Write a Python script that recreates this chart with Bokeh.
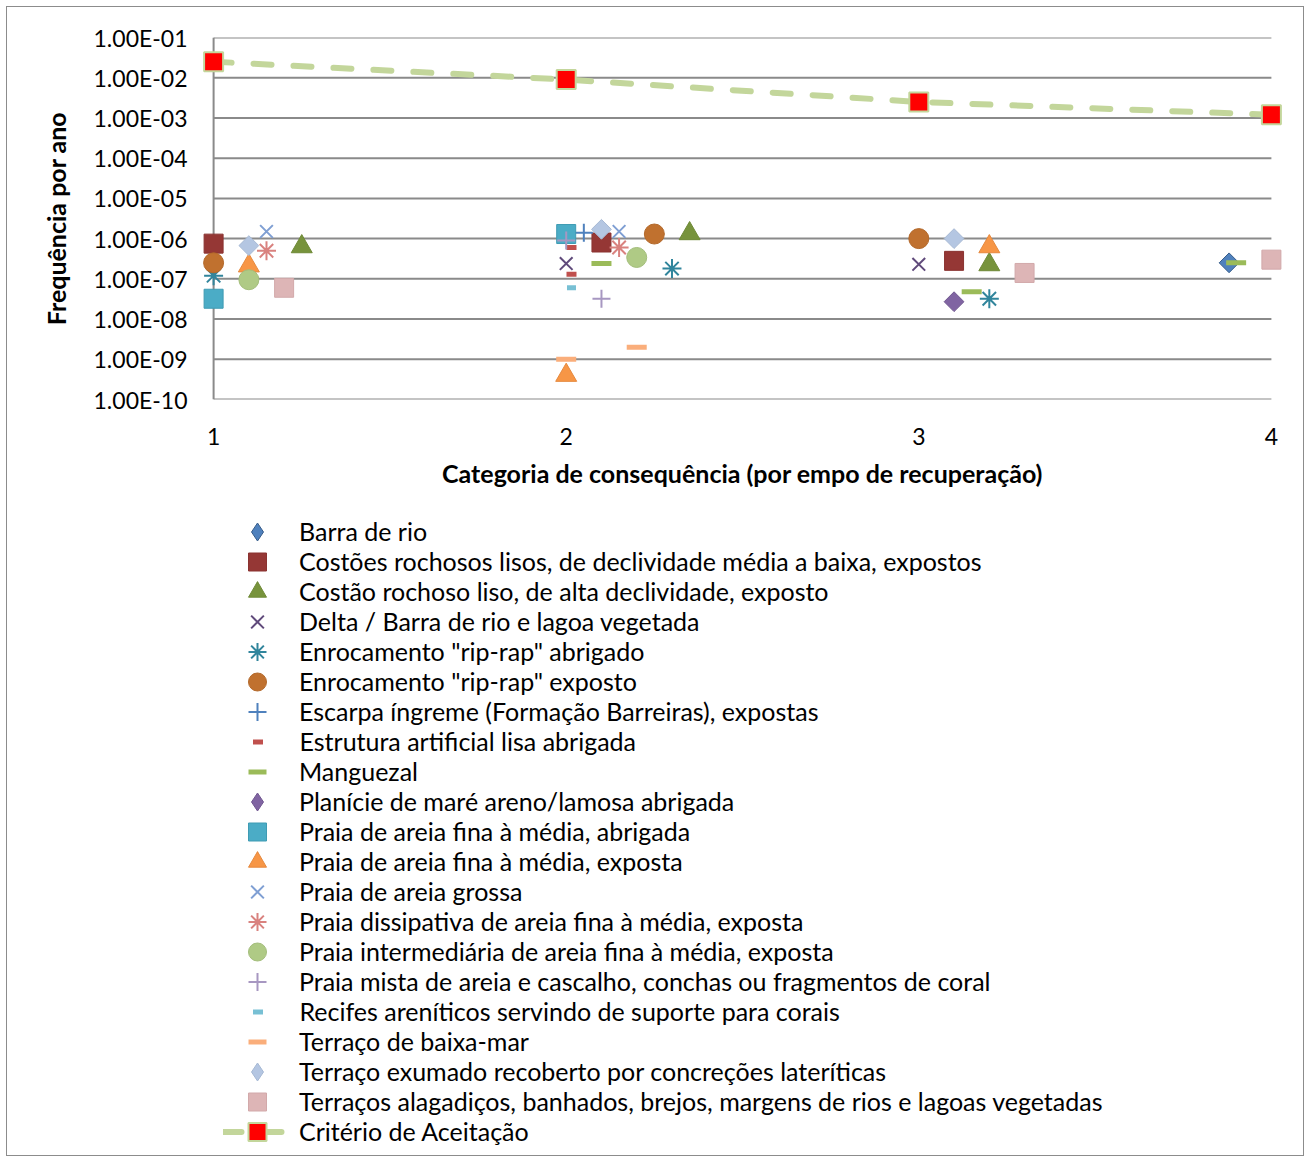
import numpy as np
from bokeh.plotting import figure
from bokeh.layouts import column
from bokeh.models import (Range1d, FixedTicker, CustomJSTickFormatter, Legend, LegendItem,
                          ColumnDataSource)
from bokeh.embed import file_html
from bokeh.resources import INLINE

# ---------------- data ----------------
x_ticks = [1, 2, 3, 4]
y_ticks = [1e-10, 1e-9, 1e-8, 1e-7, 1e-6, 1e-5, 1e-4, 1e-3, 1e-2, 1e-1]
y_tick_labels = ["1.00E-10", "1.00E-09", "1.00E-08", "1.00E-07", "1.00E-06",
                 "1.00E-05", "1.00E-04", "1.00E-03", "1.00E-02", "1.00E-01"]

barra_x = [3.88];                 barra_y = [2.5e-7]
costoes_x = [1, 2.1, 3.1];        costoes_y = [7.5e-7, 8e-7, 2.8e-7]
costao_alta_x = [1.25, 2.35, 3.2]; costao_alta_y = [6.3e-7, 1.33e-6, 2.25e-7]
delta_x = [2, 3];                 delta_y = [2.4e-7, 2.3e-7]
enroc_abrig_x = [1, 2.3, 3.2];    enroc_abrig_y = [1.2e-7, 1.8e-7, 3.2e-8]
enroc_exp_x = [1, 2.25, 3];       enroc_exp_y = [2.5e-7, 1.3e-6, 1e-6]
escarpa_x = [2.05];               escarpa_y = [1.4e-6]
estrutura_x = [2.015, 2.015];     estrutura_y = [6e-7, 1.3e-7]
manguezal_x = [2.1, 3.15, 3.9];   manguezal_y = [2.4e-7, 4.8e-8, 2.5e-7]
planicie_x = [3.1];               planicie_y = [2.7e-8]
praia_abrig_x = [1, 2];           praia_abrig_y = [3.2e-8, 1.3e-6]
praia_exp_x = [1.1, 2, 3.2];      praia_exp_y = [2.1e-7, 4e-10, 6.3e-7]
praia_grossa_x = [1.15, 2.15];    praia_grossa_y = [1.5e-6, 1.5e-6]
dissip_x = [1.15, 2.15];          dissip_y = [5e-7, 6e-7]
intermed_x = [1.1, 2.2];          intermed_y = [9.5e-8, 3.4e-7]
mista_x = [2, 2.1];               mista_y = [9e-7, 3.2e-8]
recifes_x = [2.015];              recifes_y = [6e-8]
baixamar_x = [2, 2.2];            baixamar_y = [1e-9, 2e-9]
exumado_x = [1.1, 2.1, 3.1];      exumado_y = [6.7e-7, 1.7e-6, 1e-6]
alagadicos_x = [1.2, 3.3, 4];     alagadicos_y = [6e-8, 1.4e-7, 3e-7]
criterio_x = [1, 2, 3, 4];        criterio_y = [2.5e-2, 9e-3, 2.5e-3, 1.2e-3]

labels = [
    "Barra de rio",
    "Costões rochosos lisos, de declividade média a baixa, expostos",
    "Costão rochoso liso, de alta declividade, exposto",
    "Delta / Barra de rio e lagoa vegetada",
    "Enrocamento \"rip-rap\" abrigado",
    "Enrocamento \"rip-rap\" exposto",
    "Escarpa íngreme (Formação Barreiras), expostas",
    "Estrutura artificial lisa abrigada",
    "Manguezal",
    "Planície de maré areno/lamosa abrigada",
    "Praia de areia fina à média, abrigada",
    "Praia de areia fina à média, exposta",
    "Praia de areia grossa",
    "Praia dissipativa de areia fina à média, exposta",
    "Praia intermediária de areia fina à média, exposta",
    "Praia mista de areia e cascalho, conchas ou fragmentos de coral",
    "Recifes areníticos servindo de suporte para corais",
    "Terraço de baixa-mar",
    "Terraço exumado recoberto por concreções lateríticas",
    "Terraços alagadiços, banhados, brejos, margens de rios e lagoas vegetadas",
    "Critério de Aceitação",
]

FONT = "Lato"
W = 1296
H1 = 500
H2 = 648
TOP = 7      # page y of the content top (margin + border)
FRAME_LEFT = 199   # page x of the (aligned) frame left edge

# ---------------- chart ----------------
p = figure(width=W, height=H1, y_axis_type="log",
           x_range=Range1d(0.96, 4.04), y_range=Range1d(1e-10, 1e-1),
           output_backend="svg", toolbar_location=None,
           min_border_left=192, min_border_right=18, min_border_top=30,
           min_border_bottom=H1 - (399 - TOP))
p.outline_line_color = None
p.grid.visible = False

for ax in (p.xaxis[0], p.yaxis[0]):
    ax.axis_line_color = None
    ax.major_tick_line_color = None
    ax.minor_tick_line_color = None
    ax.major_label_text_font = FONT
    ax.major_label_text_font_size = "23px"
    ax.major_label_text_color = "#000000"
    ax.axis_label_text_font = FONT
    ax.axis_label_text_font_style = "bold"
    ax.axis_label_text_font_size = "25px"
    ax.axis_label_text_color = "#000000"

p.xaxis.ticker = FixedTicker(ticks=x_ticks)
p.xaxis.major_label_standoff = 22
p.xaxis.axis_label = "Categoria de consequência (por empo de recuperação)"
p.xaxis.axis_label_standoff = 10

p.yaxis.ticker = FixedTicker(ticks=y_ticks)
p.yaxis.formatter = CustomJSTickFormatter(args=dict(tv=y_ticks, tl=y_tick_labels), code="""
let best = 0, bd = Infinity;
for (let i = 0; i < tv.length; i++) {
  const d = Math.abs(Math.log10(tick) - Math.log10(tv[i]));
  if (d < bd) { bd = d; best = i; }
}
return tl[best];
""")
p.yaxis.major_label_standoff = 6
p.yaxis.axis_label = "Frequência por ano"
p.yaxis.axis_label_standoff = 20

grid_col = "#8a8a8a"
p.segment(x0=[x_ticks[0]] * len(y_ticks), x1=[x_ticks[-1]] * len(y_ticks),
          y0=y_ticks, y1=y_ticks, line_color=grid_col, line_width=2)
p.segment(x0=[x_ticks[0]], x1=[x_ticks[0]], y0=[y_ticks[0]], y1=[y_ticks[-1]],
          line_color=grid_col, line_width=2)

styles = [
    dict(marker="square", angle=np.pi/4, size=14, fill_color="#4F81BD", line_color="#385D8A", line_width=1),
    dict(marker="square", size=19, fill_color="#953735", line_color="#8a3331", line_width=1),
    dict(marker="triangle", size=21, fill_color="#77933C", line_color="#6f8a37", line_width=1),
    dict(marker="x", size=18, line_color="#604A7B", line_width=2),
    dict(marker="asterisk", size=19, line_color="#31859C", line_width=2),
    dict(marker="circle", size=20, fill_color="#C0712F", line_color="#b3692b", line_width=1),
    dict(marker="cross", size=18, line_color="#4F81BD", line_width=2),
    dict(marker="dash", size=10, line_color="#C0504D", line_width=5, line_cap="butt"),
    dict(marker="dash", size=20, line_color="#9BBB59", line_width=5, line_cap="butt"),
    dict(marker="square", angle=np.pi/4, size=14, fill_color="#8064A2", line_color="#715890", line_width=1),
    dict(marker="square", size=19, fill_color="#4BACC6", line_color="#3f9bb3", line_width=1),
    dict(marker="triangle", size=21, fill_color="#F79646", line_color="#e6893e", line_width=1),
    dict(marker="x", size=18, line_color="#7F9FD3", line_width=2),
    dict(marker="asterisk", size=19, line_color="#D9827F", line_width=2),
    dict(marker="circle", size=20, fill_color="#AFCA85", line_color="#a3bd7b", line_width=1),
    dict(marker="cross", size=18, line_color="#A797C1", line_width=2),
    dict(marker="dash", size=9, line_color="#78C0D4", line_width=5, line_cap="butt"),
    dict(marker="dash", size=20, line_color="#FAAE7B", line_width=5, line_cap="butt"),
    dict(marker="square", angle=np.pi/4, size=14, fill_color="#B4C6E2", line_color="#a7b9d4", line_width=1),
    dict(marker="square", size=19, fill_color="#DDB5B6", line_color="#d2a9aa", line_width=1),
]
data = [
    (barra_x, barra_y), (costoes_x, costoes_y), (costao_alta_x, costao_alta_y),
    (delta_x, delta_y), (enroc_abrig_x, enroc_abrig_y), (enroc_exp_x, enroc_exp_y),
    (escarpa_x, escarpa_y), (estrutura_x, estrutura_y), (manguezal_x, manguezal_y),
    (planicie_x, planicie_y), (praia_abrig_x, praia_abrig_y), (praia_exp_x, praia_exp_y),
    (praia_grossa_x, praia_grossa_y), (dissip_x, dissip_y), (intermed_x, intermed_y),
    (mista_x, mista_y), (recifes_x, recifes_y), (baixamar_x, baixamar_y),
    (exumado_x, exumado_y), (alagadicos_x, alagadicos_y),
]

sources = []
for (xs, ys), kw in zip(data, styles):
    src = ColumnDataSource(dict(x=xs, y=ys))
    sources.append(src)
    p.scatter("x", "y", source=src, **kw)

crit_line = dict(line_color="#C3D69B", line_width=6, line_dash="18 22", line_cap="round")
crit_mark = dict(marker="square", size=19, fill_color="#FF0000", line_color="#C3D69B", line_width=2)
crit_src = ColumnDataSource(dict(x=criterio_x, y=criterio_y))
p.line("x", "y", source=crit_src, **crit_line)
p.scatter("x", "y", source=crit_src, **crit_mark)

# ---------------- legend panel ----------------
# same series, but in a panel whose x range lies away from the data: only legend entries show
q = figure(width=W, height=H2, x_range=Range1d(100, 101), y_range=Range1d(0, 1),
           output_backend="svg", toolbar_location=None,
           x_axis_location=None, y_axis_location=None,
           min_border_left=0, min_border_right=0, min_border_top=0, min_border_bottom=0)
q.outline_line_color = None
q.grid.visible = False

items = []
for src, kw in zip(sources, styles):
    kw2 = dict(kw)
    if kw2.get("angle"):
        kw2.pop("angle")
        kw2["marker"] = "diamond"
    r = q.scatter("x", "y", source=src, **kw2)
    items.append([r])
rl = q.line("x", "y", source=crit_src, **crit_line)
rs = q.scatter("x", "y", source=crit_src, **crit_mark)
items.append([rl, rs])

q_top = TOP + H1
ROW0, PITCH, GX, TX = 531, 30, 257, 299


def add_legend(rows, glyph_w, glyph_h=45):
    step = (rows[1] - rows[0]) * PITCH if len(rows) > 1 else PITCH
    spacing = step - glyph_h
    top = ROW0 + PITCH * rows[0] - glyph_h / 2 - q_top
    height = len(rows) * glyph_h + (len(rows) - 1) * spacing
    vy = H2 - (top + height)
    vx = GX - glyph_w / 2 - FRAME_LEFT
    lg = Legend(items=[LegendItem(label=labels[r], renderers=items[r]) for r in rows],
                location=(vx, vy), orientation="vertical",
                glyph_width=glyph_w, glyph_height=glyph_h, label_height=glyph_h,
                spacing=spacing, label_standoff=int(round(TX - (GX + glyph_w / 2))),
                padding=0, margin=0,
                label_text_font=FONT, label_text_font_size="25px",
                label_text_color="#000000",
                background_fill_alpha=0, border_line_color=None)
    q.add_layout(lg, "center")


add_legend([0, 2, 4, 6, 8, 10, 12, 14], 68)
add_legend([18, 20], 68)
add_legend([1, 3, 5], 68)
add_legend([9, 11, 13, 15, 17, 19], 68)
add_legend([7, 16], 25)

layout = column(p, q, spacing=0, margin=(6, 0, 0, 6),
                styles={"border": "1px solid #8c8c8c"})

open("out.html", "w").write(file_html(layout, INLINE))
